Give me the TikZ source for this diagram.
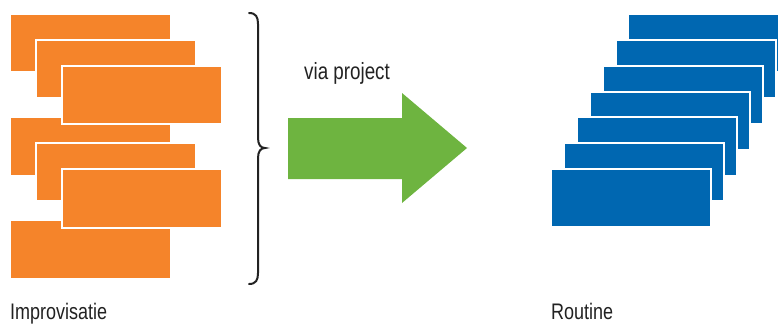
\documentclass[tikz,border=0pt]{standalone}
\usepackage{fontspec}
\setmainfont[FakeStretch=0.8]{Liberation Sans}
\definecolor{orng}{HTML}{F5842A}
\definecolor{blu}{HTML}{0067B1}
\definecolor{grn}{HTML}{6EB440}
\definecolor{txt}{HTML}{222222}
\begin{document}
\begin{tikzpicture}[x=1pt,y=-1pt,
  obox/.style={fill=orng,draw=white,line width=1.2pt},
  bbox/.style={fill=blu,draw=white,line width=1.2pt},
  lbl/.style={anchor=base west,inner sep=0pt,text=txt,font=\fontsize{22.5}{26}\selectfont}]
\useasboundingbox (0,0) rectangle (778,324);
% orange stacks (bottom groups beneath upper groups)
\path[obox] (10,220) rectangle (171,279);
\path[obox] (10,117) rectangle (171,176);
\path[obox] (36,143) rectangle (196,201);
\path[obox] (62,169) rectangle (222,228);
\path[obox] (10,14) rectangle (171,72);
\path[obox] (36,40) rectangle (196,98);
\path[obox] (62,66) rectangle (222,124);
% brace
\draw[line width=2pt,txt,line cap=round] (249,13) .. controls (256,13) and (258,17) .. (258,24)
  -- (258,138) .. controls (258,145) and (261,148) .. (265,148)
  .. controls (261,148) and (258,151) .. (258,158)
  -- (258,273) .. controls (258,280) and (256,284) .. (249,284);
% arrow
\fill[grn] (288,118) -- (402,118) -- (402,93) -- (467,148) -- (402,203) -- (402,179) -- (288,179) -- cycle;
\node[lbl,font=\fontsize{23.5}{26}\selectfont] (via) at (304,79.5) {via project};
% blue stack
\path[bbox] (628,14) rectangle (788,72);
\path[bbox] (616,40) rectangle (776,98);
\path[bbox] (603,66) rectangle (763,124);
\path[bbox] (590,92) rectangle (750,150);
\path[bbox] (577,117) rectangle (737,176);
\path[bbox] (564,143) rectangle (724,201);
\path[bbox] (551,169) rectangle (711,227);
\node[lbl] (imp) at (10,319) {Improvisatie};
\node[lbl] (rou) at (551,319) {Routine};
\end{tikzpicture}
\end{document}
